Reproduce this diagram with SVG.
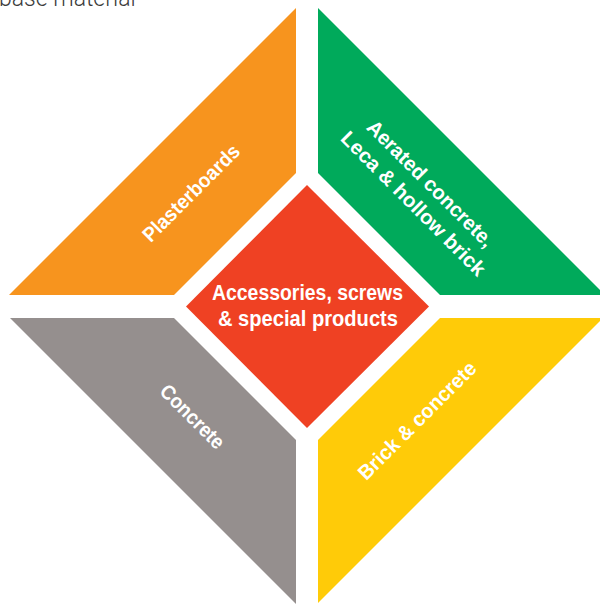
<svg xmlns="http://www.w3.org/2000/svg" width="600" height="604" viewBox="0 0 600 604">
<style>
.lbl{font-family:"Liberation Sans",Arial,sans-serif;font-weight:bold;font-size:20.5px;fill:#ffffff;text-anchor:middle}
.mid{font-size:22px}
.cap{font-family:Roboto,"Liberation Sans",sans-serif;font-weight:300;font-size:23px;fill:#3c3c3c}
</style>
<rect width="600" height="604" fill="#ffffff"/>
<text class="cap" x="-1" y="6">base material</text>
<g id="plasterboards">
<polygon points="296,8 296,173 174,295 9,295" fill="#F7941E"/>
<text class="lbl" transform="translate(196,198) rotate(-45)" textLength="128" lengthAdjust="spacingAndGlyphs">Plasterboards</text>
</g>
<g id="aerated">
<polygon points="318,8 605,295 440,295 318,173" fill="#00AA5B"/>
<text class="lbl" transform="translate(425.5,188.5) rotate(45)" textLength="170" lengthAdjust="spacingAndGlyphs">Aerated concrete,</text>
<text class="lbl" transform="translate(408.5,208.5) rotate(45)" textLength="195" lengthAdjust="spacingAndGlyphs">Leca &amp; hollow brick</text>
</g>
<g id="concrete">
<polygon points="10,318 174,318 296,440 296,604" fill="#958F8E"/>
<text class="lbl" transform="translate(187.5,421.5) rotate(45)" textLength="82" lengthAdjust="spacingAndGlyphs">Concrete</text>
</g>
<g id="brick">
<polygon points="603,318 318,603 318,440 440,318" fill="#FFCB08"/>
<text class="lbl" transform="translate(422,425.5) rotate(-45)" textLength="158" lengthAdjust="spacingAndGlyphs">Brick &amp; concrete</text>
</g>
<g id="accessories">
<polygon points="307,185 429,306.5 307,428 186,306.5" fill="#EF4123"/>
<text class="lbl mid" x="307.5" y="300" textLength="191" lengthAdjust="spacingAndGlyphs">Accessories, screws</text>
<text class="lbl mid" x="308" y="326" textLength="180" lengthAdjust="spacingAndGlyphs">&amp; special products</text>
</g>
<g id="connectors"></g>
</svg>
